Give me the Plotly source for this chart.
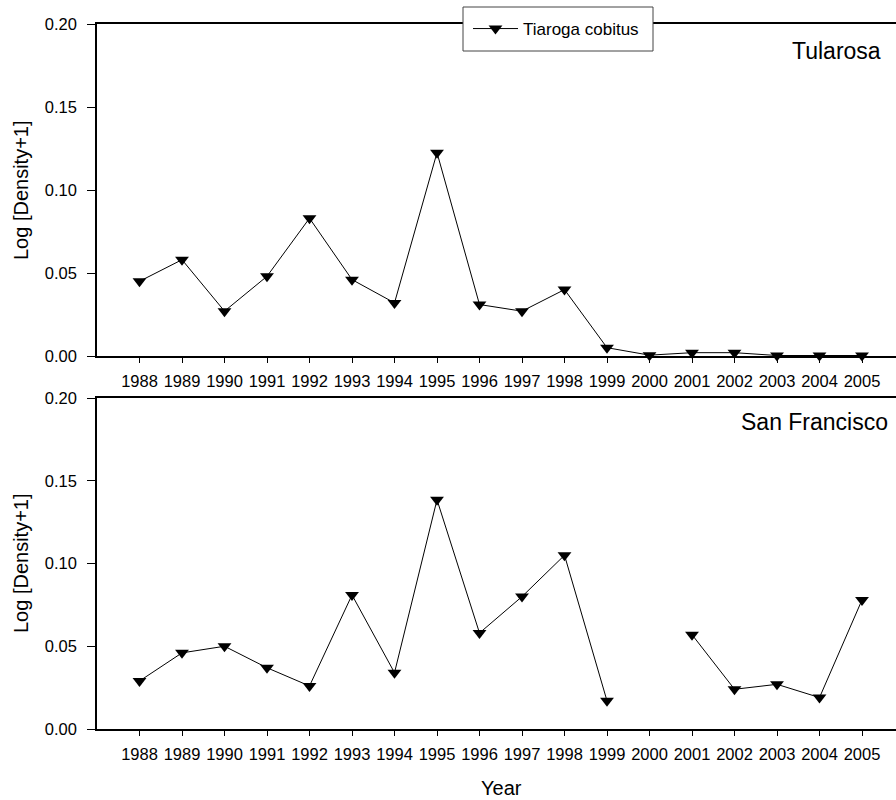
import plotly.graph_objects as go

years = list(range(1988, 2006))
tularosa = [0.045, 0.058, 0.027, 0.048, 0.083, 0.046, 0.032, 0.1225, 0.031, 0.027,
            0.040, 0.005, 0.0005, 0.002, 0.002, 0.0003, 0.0003, 0.0003]
san_francisco = [0.029, 0.046, 0.050, 0.037, 0.026, 0.081, 0.034, 0.1385, 0.058, 0.080,
                 0.105, 0.017, None, 0.057, 0.024, 0.027, 0.019, 0.078]
y_ticks = [0.0, 0.05, 0.10, 0.15, 0.20]
series_name = "Tiaroga cobitus"
panel_names = ["Tularosa", "San Francisco"]

FONT = "Arial, Liberation Sans, sans-serif"
W, H = 896, 800
ML, MR, MT, MB = 97, 0, 24, 71
PW, PH = W - ML - MR, H - MT - MB

def py(px):  # pixel y -> paper y
    return (H - MB - px) / PH

def pxx(px):
    return (px - ML) / PW

marker = dict(symbol="triangle-down", size=12, color="black")
line = dict(color="black", width=1)

fig = go.Figure()
fig.add_trace(go.Scatter(x=years, y=tularosa, mode="lines+markers", name=series_name,
                         marker=marker, line=line, xaxis="x", yaxis="y",
                         cliponaxis=False, showlegend=True))
fig.add_trace(go.Scatter(x=years, y=san_francisco, mode="lines+markers", name=series_name,
                         marker=marker, line=line, xaxis="x2", yaxis="y2",
                         cliponaxis=False, connectgaps=False, showlegend=False))

xcommon = dict(range=[1987, 1987 + PW / 42.5], tickvals=years, ticktext=[str(y) for y in years],
               showline=True, linecolor="black", linewidth=1.5, mirror=True,
               ticks="outside", ticklen=5, tickwidth=1, tickcolor="black",
               showgrid=False, zeroline=False, ticklabelstandoff=4,
               tickfont=dict(family=FONT, size=16.5, color="black"))
ycommon = dict(range=[0, 0.2], tickvals=y_ticks, ticktext=[f"{v:.2f}" for v in y_ticks],
               showline=True, linecolor="black", linewidth=1.5, mirror=False,
               ticks="outside", ticklen=8, tickwidth=1, tickcolor="black",
               showgrid=False, zeroline=False, ticklabelstandoff=7,
               tickfont=dict(family=FONT, size=16.5, color="black"))

fig.update_layout(
    width=W, height=H,
    margin=dict(l=ML, r=MR, t=MT, b=MB),
    paper_bgcolor="white", plot_bgcolor="white",
    xaxis=dict(xcommon, domain=[0, 1], anchor="y"),
    yaxis=dict(ycommon, domain=[py(356), 1.0], anchor="x"),
    xaxis2=dict(xcommon, domain=[0, 1], anchor="y2"),
    yaxis2=dict(ycommon, domain=[0, py(398)], anchor="x2"),
    showlegend=True,
    legend=dict(x=pxx(468), y=py(29), xanchor="left", yanchor="middle",
                bgcolor="rgba(0,0,0,0)", borderwidth=0, itemwidth=45,
                font=dict(family=FONT, size=17, color="black")),
    shapes=[
        dict(type="rect", xref="paper", yref="paper", layer="above",
             x0=pxx(463), x1=pxx(653), y0=py(51), y1=py(7),
             fillcolor="white", line=dict(color="#444", width=1)),
    ],
    annotations=[
        dict(text=panel_names[0], x=pxx(883), y=py(51), xref="paper", yref="paper",
             xanchor="right", yanchor="middle", showarrow=False,
             font=dict(family=FONT, size=23, color="black")),
        dict(text=panel_names[1], x=pxx(890), y=py(422), xref="paper", yref="paper",
             xanchor="right", yanchor="middle", showarrow=False,
             font=dict(family=FONT, size=23, color="black")),
        dict(text="Log [Density+1]", x=pxx(21), y=py(190), xref="paper", yref="paper",
             xanchor="center", yanchor="middle", textangle=-90, showarrow=False,
             font=dict(family=FONT, size=20, color="black")),
        dict(text="Log [Density+1]", x=pxx(21), y=py(563), xref="paper", yref="paper",
             xanchor="center", yanchor="middle", textangle=-90, showarrow=False,
             font=dict(family=FONT, size=20, color="black")),
        dict(text="Year", x=pxx(501), y=py(788), xref="paper", yref="paper",
             xanchor="center", yanchor="middle", showarrow=False,
             font=dict(family=FONT, size=20, color="black")),
    ],
)

fig.write_html("out.html", config={"displayModeBar": False},
               post_script="document.body.style.margin='0px';document.body.style.overflow='hidden';")
